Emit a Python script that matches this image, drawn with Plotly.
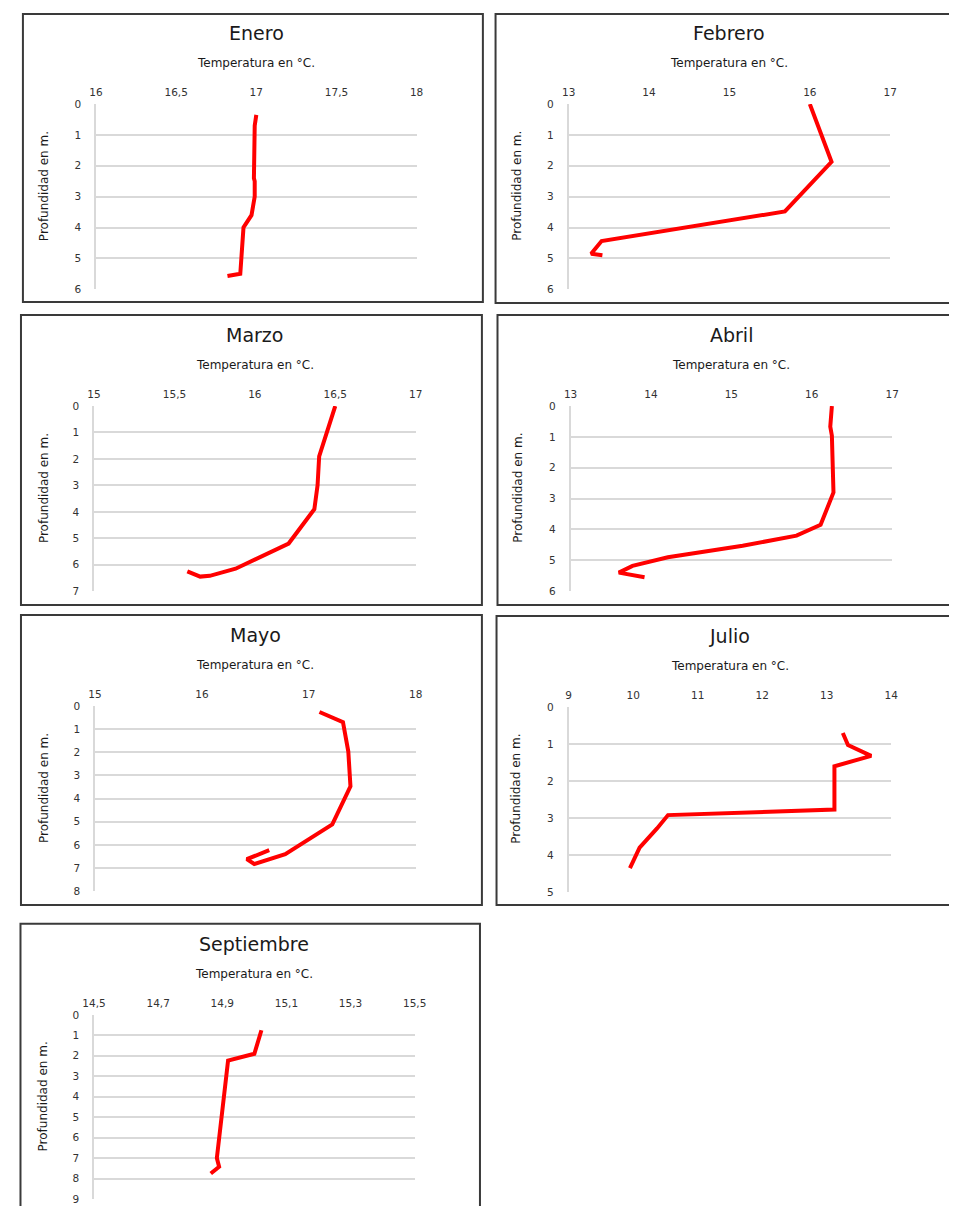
import plotly.graph_objects as go

# ---------------- data ----------------
months = ["Enero", "Febrero", "Marzo", "Abril", "Mayo", "Julio", "Septiembre"]

enero_temp = [17.0, 16.99, 16.985, 16.99, 16.99, 16.97, 16.92, 16.9, 16.82]
enero_depth = [0.35, 0.7, 2.4, 2.5, 3.0, 3.6, 4.0, 5.5, 5.57]

febrero_temp = [16.0, 16.27, 15.69, 13.41, 13.28, 13.42]
febrero_depth = [0.0, 1.87, 3.48, 4.44, 4.85, 4.9]

marzo_temp = [16.5, 16.43, 16.4, 16.39, 16.37, 16.21, 16.05, 15.88, 15.72, 15.66, 15.58]
marzo_depth = [0.0, 1.3, 1.9, 3.0, 3.9, 5.2, 5.65, 6.15, 6.42, 6.45, 6.25]

abril_temp = [16.25, 16.23, 16.25, 16.27, 16.11, 15.81, 15.14, 14.21, 13.77, 13.6, 13.92]
abril_depth = [0.0, 0.67, 0.96, 2.8, 3.85, 4.2, 4.53, 4.9, 5.18, 5.4, 5.55]

mayo_temp = [17.1, 17.32, 17.37, 17.39, 17.22, 17.05, 16.78, 16.49, 16.42, 16.63]
mayo_depth = [0.26, 0.7, 1.97, 3.47, 5.12, 5.62, 6.4, 6.83, 6.62, 6.23]

julio_temp = [13.25, 13.33, 13.69, 13.12, 13.12, 10.54, 10.37, 10.1, 9.95]
julio_depth = [0.7, 1.03, 1.32, 1.6, 2.77, 2.92, 3.28, 3.8, 4.35]

sept_temp = [15.022, 15.0, 14.918, 14.883, 14.89, 14.864]
sept_depth = [0.75, 1.9, 2.23, 7.0, 7.42, 7.75]

enero_xticks = [16, 16.5, 17, 17.5, 18]
enero_xlabels = ["16", "16,5", "17", "17,5", "18"]
febrero_xticks = [13, 14, 15, 16, 17]
febrero_xlabels = ["13", "14", "15", "16", "17"]
marzo_xticks = [15, 15.5, 16, 16.5, 17]
marzo_xlabels = ["15", "15,5", "16", "16,5", "17"]
abril_xticks = [13, 14, 15, 16, 17]
abril_xlabels = ["13", "14", "15", "16", "17"]
mayo_xticks = [15, 16, 17, 18]
mayo_xlabels = ["15", "16", "17", "18"]
julio_xticks = [9, 10, 11, 12, 13, 14]
julio_xlabels = ["9", "10", "11", "12", "13", "14"]
sept_xticks = [14.5, 14.7, 14.9, 15.1, 15.3, 15.5]
sept_xlabels = ["14,5", "14,7", "14,9", "15,1", "15,3", "15,5"]

depth_max = [6, 6, 7, 6, 8, 5, 9]

x_title = "Temperatura en °C."
y_title = "Profundidad en m."

series = [
    (enero_temp, enero_depth, enero_xticks, enero_xlabels),
    (febrero_temp, febrero_depth, febrero_xticks, febrero_xlabels),
    (marzo_temp, marzo_depth, marzo_xticks, marzo_xlabels),
    (abril_temp, abril_depth, abril_xticks, abril_xlabels),
    (mayo_temp, mayo_depth, mayo_xticks, mayo_xlabels),
    (julio_temp, julio_depth, julio_xticks, julio_xlabels),
    (sept_temp, sept_depth, sept_xticks, sept_xlabels),
]

# ---------------- layout (pixels in page coords) ----------------
OFF = 8                      # default body margin of the html page
W, H = 957 - 2 * OFF, 1214 - 2 * OFF   # figure size that fits in the window


def fx(p):
    return (p - OFF) / W


def fy(p):
    return 1 - (p - OFF) / H


# plot areas: x0, x1, y0(top), y1(bottom)
plot_px = [
    (86, 415, 99, 286),
    (571, 901, 99, 286),
    (84, 414, 404, 591),
    (573, 903, 404, 591),
    (85, 414, 707, 894),
    (571, 902, 708, 895),
    (84, 413, 1019, 1205),
]
# frame boxes
box_px = [
    (11, 483, 8, 299),
    (496, 970, 8, 300),
    (9, 482, 312, 605),
    (498, 970, 312, 605),
    (9, 482, 615, 908),
    (497, 970, 616, 908),
    (8.5, 480, 927, 1230),
]
ytitle_x = [32, 518, 32, 519, 32, 517, 32]

FONT = "DejaVu Sans"
TXT = "#333333"

fig = go.Figure()
layout = dict(
    width=W, height=H,
    margin=dict(l=0, r=0, t=0, b=0),
    paper_bgcolor="white", plot_bgcolor="white",
    showlegend=False,
    font=dict(family=FONT, color=TXT),
)
shapes = []
annotations = []

for i, ((temp, depth, xt, xl), (x0, x1, y0, y1), box) in enumerate(zip(series, plot_px, box_px)):
    n = i + 1
    sfx = "" if n == 1 else str(n)
    fig.add_trace(go.Scatter(
        x=temp, y=depth, mode="lines",
        line=dict(color="#ff0000", width=4),
        xaxis="x" + sfx, yaxis="y" + sfx,
        hoverinfo="x+y",
    ))
    ymax = depth_max[i]
    layout["xaxis" + sfx] = dict(
        domain=[fx(x0), fx(x1)], range=[xt[0], xt[-1]],
        side="top", anchor="y" + sfx,
        tickvals=xt, ticktext=xl, ticks="",
        showgrid=False, zeroline=False, showline=False,
        tickfont=dict(size=10.5, color=TXT, family=FONT),
        ticklabelstandoff=5, fixedrange=True,
    )
    layout["yaxis" + sfx] = dict(
        domain=[fy(y1), fy(y0)], range=[ymax, 0],
        anchor="x" + sfx,
        tickvals=list(range(ymax + 1)), ticks="",
        showgrid=True, gridcolor="#d9d9d9", gridwidth=1.5,
        zeroline=False, showline=True, linecolor="#d9d9d9", linewidth=1.5,
        tickfont=dict(size=10.5, color=TXT, family=FONT),
        ticklabelstandoff=11, fixedrange=True,
    )
    # frame
    bx0, bx1, by0, by1 = box
    shapes.append(dict(type="rect", xref="paper", yref="paper",
                       x0=fx(bx0), x1=fx(bx1), y0=fy(by1), y1=fy(by0),
                       line=dict(color="#3a3a3a", width=2), fillcolor="rgba(0,0,0,0)",
                       layer="below"))
    xc = fx((x0 + x1) / 2)
    annotations.append(dict(text=months[i], xref="paper", yref="paper",
                            x=xc, y=fy(y0 - 72), xanchor="center", yanchor="middle",
                            showarrow=False, font=dict(size=19, color="#1a1a1a", family=FONT)))
    annotations.append(dict(text=x_title, xref="paper", yref="paper",
                            x=xc, y=fy(y0 - 41), xanchor="center", yanchor="middle",
                            showarrow=False, font=dict(size=12, color="#1a1a1a", family=FONT)))
    annotations.append(dict(text=y_title, xref="paper", yref="paper",
                            x=fx(ytitle_x[i]), y=fy((y0 + y1) / 2 - 11),
                            xanchor="center", yanchor="middle", textangle=-90,
                            showarrow=False, font=dict(size=12, color="#1a1a1a", family=FONT)))

layout["shapes"] = shapes
layout["annotations"] = annotations
fig.update_layout(**layout)
fig.write_html("out.html")
